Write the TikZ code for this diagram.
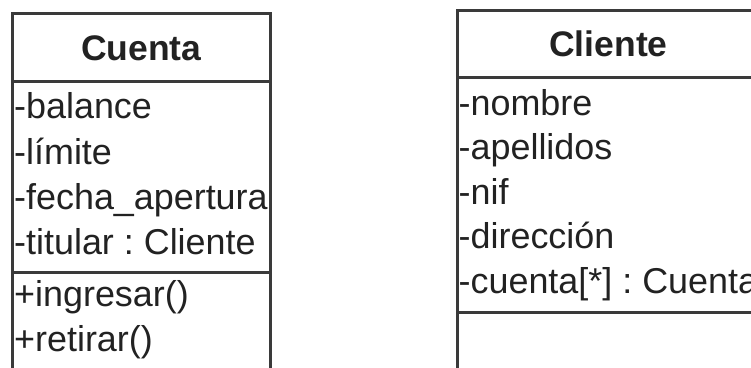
\documentclass[tikz,border=0pt]{standalone}
\usepackage{fontspec}
\setmainfont{Liberation Sans}
\definecolor{linegray}{HTML}{3A3A3A}
\definecolor{textgray}{HTML}{222222}
\tikzset{
  box/.style={draw=linegray, line width=3pt},
  attr/.style={inner sep=0pt, anchor=base west, text=textgray, font=\fontsize{35.9}{40}\selectfont},
  ttl/.style={inner sep=0pt, anchor=base, text=textgray, font=\fontsize{35.5}{40}\selectfont\bfseries},
}
\begin{document}
\begin{tikzpicture}[x=1pt,y=-1pt]
\useasboundingbox (0,0) rectangle (751,367);
\clip (0,0) rectangle (751,367);
\fill[white] (0,0) rectangle (751,367);
% Cuenta box
\coordinate (ca) at (12.7,380);
\coordinate (cb) at (12.7,13.3);
\coordinate (cc) at (270,13.3);
\coordinate (cd) at (270,380);
\draw[box] (ca) -- (cb) -- (cc) -- (cd);
\coordinate (c1l) at (12.7,81); \coordinate (c1r) at (270,81);
\coordinate (c2l) at (12.7,272); \coordinate (c2r) at (270,272);
\draw[box] (c1l) -- (c1r);
\draw[box] (c2l) -- (c2r);
\node[ttl] (cuenta) at (141.4,60) {Cuenta};
\node[attr] (cbal) at (14,118.5) {-balance};
\node[attr] (clim) at (14,164) {-límite};
\node[attr] (cfec) at (14,209) {-fecha\_apertura};
\node[attr] (ctit) at (14,254.5) {-titular\ :\ Cliente};
\node[attr] (cing) at (14,306.5) {+ingresar()};
\node[attr] (cret) at (14,351.5) {+retirar()};
% Cliente box
\coordinate (la) at (457.3,380);
\coordinate (lb) at (457.3,10);
\coordinate (lc) at (765,10);
\draw[box] (la) -- (lb) -- (lc);
\coordinate (l1l) at (457.3,77.5); \coordinate (l1r) at (765,77.5);
\coordinate (l2l) at (457.3,312); \coordinate (l2r) at (765,312);
\draw[box] (l1l) -- (l1r);
\draw[box] (l2l) -- (l2r);
\node[ttl] (cliente) at (608.5,56.5) {Cliente};
\node[attr] (lnom) at (458.5,115) {-nombre};
\node[attr] (lape) at (458.5,159.5) {-apellidos};
\node[attr] (lnif) at (458.5,204) {-nif};
\node[attr] (ldir) at (458.5,248.5) {-dirección};
\node[attr] (lcue) at (458.5,293) {-cuenta[*]\ :\ Cuenta};
\end{tikzpicture}
\end{document}
